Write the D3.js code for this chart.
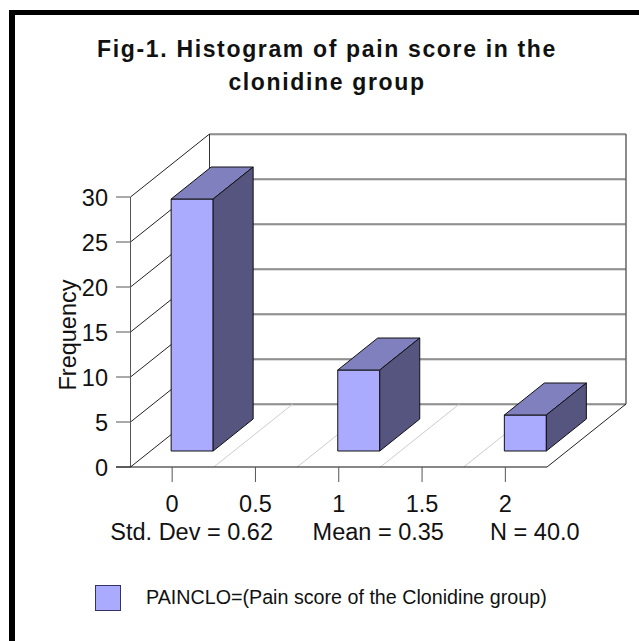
<!DOCTYPE html>
<html>
<head>
<meta charset="utf-8">
<script src="https://cdn.jsdelivr.net/npm/d3@7"></script>
<style>
  html, body { margin: 0; padding: 0; background: #fff; }
  svg { display: block; }
  text { font-family: "Liberation Sans", Arial, sans-serif; fill: #111; }
</style>
</head>
<body>
<svg id="chart" width="639" height="641"></svg>
<script>
// Values
const titleLines = ['Fig-1. Histogram of pain score in the', 'clonidine group'];
const painScores = [0, 1, 2];
const frequencies = [28, 9, 4];
const xTicks = [0, 0.5, 1, 1.5, 2];
const yTicks = [0, 5, 10, 15, 20, 25, 30];
const binEdges = [0.25, 0.75, 1.25, 1.75];
const statScores = [0, 1, 2];
const statLabels = ['Std. Dev = 0.62', 'Mean = 0.35', 'N = 40.0'];
const legendLabel = 'PAINCLO=(Pain score of the Clonidine group)';

const svg = d3.select('#chart');

const xScale = d3.scaleLinear().domain([-0.25, 2.25]).range([130.5, 547]);
const yScale = d3.scaleLinear().domain([0, 30]).range([467, 197]);

// 3D depth of the box, and the bar placement inside it
const depth = { x: 79, y: -63 };
const barFront = { x: 20, y: -16 };
const barDepth = { x: 40, y: -32 };
const barWidth = 42;
const statOffsets = [19.5, 39.5, 29.5];

const line = (x1, y1, x2, y2, color, width = 1) => svg.append('line')
  .attr('x1', x1).attr('y1', y1).attr('x2', x2).attr('y2', y2)
  .attr('stroke', color).attr('stroke-width', width);

// Outer frame, only on the top and left
svg.append('rect').attr('x', 9).attr('y', 10).attr('width', 630).attr('height', 5).attr('fill', '#000');
svg.append('rect').attr('x', 9).attr('y', 10).attr('width', 6).attr('height', 631).attr('fill', '#000');

// Title
svg.append('g').selectAll('text').data(titleLines).join('text')
  .attr('x', 327)
  .attr('y', (d, i) => 57 + i * 33)
  .attr('text-anchor', 'middle')
  .attr('font-size', 23)
  .attr('font-weight', 'bold')
  .attr('letter-spacing', 1.65)
  .text(d => d);

// Back wall and side wall gridlines
const x0 = xScale.range()[0];
const x1 = xScale.range()[1];
yTicks.forEach(v => {
  const y = yScale(v);
  line(x0, y, x0 + depth.x, y + depth.y, '#222');
  line(x0 + depth.x, y + depth.y + 1, x0 + depth.x + x1 - x0, y + depth.y + 1, '#bbb');
  line(x0 + depth.x, y + depth.y, x0 + depth.x + x1 - x0, y + depth.y, '#444');
  line(116, y, x0, y, '#555');
});
line(x0, yScale(0), x0, yScale(30), '#555');
line(x0 + depth.x, yScale(0) + depth.y, x0 + depth.x, yScale(30) + depth.y, '#333');
line(x1 + depth.x, yScale(0) + depth.y, x1 + depth.x, yScale(30) + depth.y, '#666', 1.5);

// Floor
binEdges.forEach(v => {
  const x = xScale(v);
  line(x, yScale(0), x + depth.x, yScale(0) + depth.y, '#ccc');
});
line(x1, yScale(0), x1 + depth.x, yScale(0) + depth.y, '#222');
line(116, yScale(0), x1, yScale(0), '#111');

// X ticks
xTicks.forEach(v => line(xScale(v), yScale(0), xScale(v), yScale(0) + 15, '#555'));

// Bars
const barColors = { front: '#aaaaff', top: '#8080bf', side: '#555580' };
painScores.forEach((score, i) => {
  const left = xScale(score) - barWidth / 2 + barFront.x;
  const right = left + barWidth;
  const bottom = yScale(0) + barFront.y;
  const top = bottom - (yScale(0) - yScale(frequencies[i]));
  const g = svg.append('g').attr('stroke', '#111').attr('stroke-width', 1).attr('stroke-linejoin', 'round');
  g.append('rect').attr('x', left).attr('y', top)
    .attr('width', barWidth).attr('height', bottom - top).attr('fill', barColors.front);
  g.append('path').attr('fill', barColors.top)
    .attr('d', d3.line()([[left, top], [right, top], [right + barDepth.x, top + barDepth.y], [left + barDepth.x, top + barDepth.y]]) + 'Z');
  g.append('path').attr('fill', barColors.side)
    .attr('d', d3.line()([[right, top], [right + barDepth.x, top + barDepth.y], [right + barDepth.x, bottom + barDepth.y], [right, bottom]]) + 'Z');
});

// Y tick labels and axis title
svg.append('g').selectAll('text').data(yTicks).join('text')
  .attr('x', 108)
  .attr('y', d => yScale(d) + 8.5)
  .attr('text-anchor', 'end')
  .attr('font-size', 23.5)
  .text(d => d);

svg.append('text')
  .attr('transform', 'translate(75.5,335) rotate(-90)')
  .attr('text-anchor', 'middle')
  .attr('font-size', 23.5)
  .text('Frequency');

// X tick labels and statistics
svg.append('g').selectAll('text').data(xTicks).join('text')
  .attr('x', d => xScale(d))
  .attr('y', 511.5)
  .attr('text-anchor', 'middle')
  .attr('font-size', 23.5)
  .text(d => d);

svg.append('g').selectAll('text').data(statLabels).join('text')
  .attr('x', (d, i) => xScale(statScores[i]) + statOffsets[i])
  .attr('y', 540)
  .attr('text-anchor', 'middle')
  .attr('font-size', 23.5)
  .text(d => d);

// Legend
svg.append('rect')
  .attr('x', 95.5).attr('y', 585.5).attr('width', 25).attr('height', 25)
  .attr('fill', barColors.front).attr('stroke', '#333366');
svg.append('text')
  .attr('x', 146).attr('y', 604)
  .attr('font-size', 19.7)
  .text(legendLabel);
</script>
</body>
</html>
